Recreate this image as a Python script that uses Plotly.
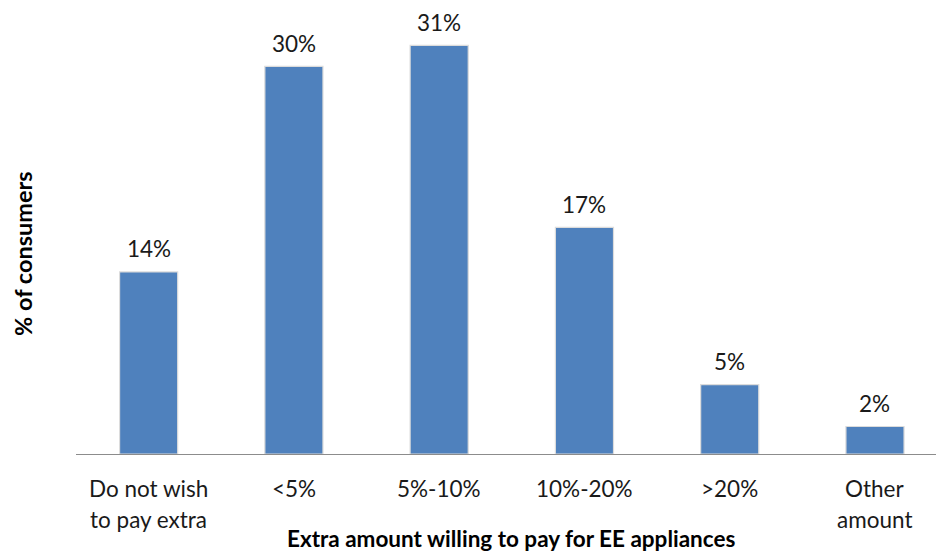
import plotly.graph_objects as go

# Share of consumers by extra amount they would pay for EE appliances
categories = ["Do not wish\nto pay extra", "<5%", "5%-10%", "10%-20%", ">20%", "Other\namount"]
values = [13.9, 29.6, 31.2, 17.3, 5.3, 2.1]
value_labels = ["14%", "30%", "31%", "17%", "5%", "2%"]

FONT = "Lato"
BAR_COLOR = "#4f81bd"
W, H = 936, 553
L, B = 76, 99

keys = [c.replace("\n", " ") for c in categories]

fig = go.Figure(go.Bar(
    x=keys,
    y=values,
    width=0.4,
    marker=dict(color=BAR_COLOR, line=dict(color="#dcdcdc", width=1.2)),
    hoverinfo="skip",
))

# value labels above each bar
for k, v, lab in zip(keys, values, value_labels):
    fig.add_annotation(x=k, y=v, text=lab, showarrow=False, yanchor="middle",
                       yshift=23, font=dict(family=FONT, size=22.5, color="#1a1a1a"))

# category labels, one annotation per line to get the wide line spacing
for k, c in zip(keys, categories):
    for i, line in enumerate(c.split("\n")):
        fig.add_annotation(x=k, y=0, yref="y", text=line, showarrow=False,
                           yanchor="middle", yshift=-34 - 31 * i,
                           font=dict(family=FONT, size=22.5, color="#1a1a1a"))

# axis titles (positions picked in pixels, converted to paper units)
plot_w = W - L
plot_h = H - B
fig.add_annotation(x=(511 - L) / plot_w, y=(H - B - 538) / plot_h,
                   xref="paper", yref="paper", xanchor="center",
                   text="<b>Extra amount willing to pay for EE appliances</b>",
                   showarrow=False, yanchor="middle",
                   font=dict(family=FONT, size=22.5, color="#000000"))
fig.add_annotation(x=(23 - L) / plot_w, y=(H - B - 254) / plot_h,
                   xref="paper", yref="paper", showarrow=False,
                   xanchor="center", yanchor="middle",
                   text="<b>% of consumers</b>", textangle=-90,
                   font=dict(family=FONT, size=23.5, color="#000000"))

fig.update_layout(
    width=W,
    height=H,
    margin=dict(l=L, r=0, t=0, b=B),
    plot_bgcolor="white",
    paper_bgcolor="white",
    showlegend=False,
    xaxis=dict(range=[-0.5, 5.42], showticklabels=False, ticks="",
               showline=True, linecolor="#8c8c8c", linewidth=1, showgrid=False,
               zeroline=False),
    yaxis=dict(range=[0, 34.66], visible=False, showgrid=False, zeroline=False),
)

fig.write_html("out.html", config={"displayModeBar": False},
               post_script="document.body.style.margin='0px';")
